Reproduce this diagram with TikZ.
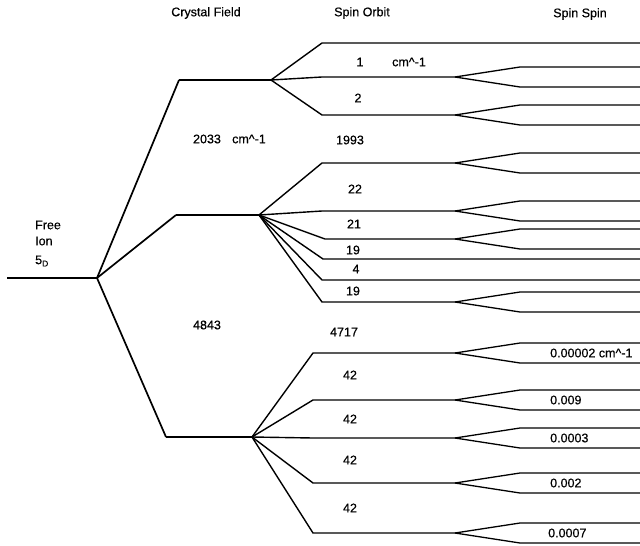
\documentclass[tikz,border=0pt]{standalone}
\usepackage{fontspec}
\setmainfont{Liberation Sans}
\newfontfamily\lblfont{Liberation Sans}[FakeBold=0.5]
\begin{document}
\begin{tikzpicture}[x=1pt,y=-1pt,
  lbl/.style={inner sep=0pt,font=\lblfont\fontsize{12.5}{14}\selectfont},
  hdr/.style={inner sep=0pt,font=\lblfont\fontsize{12.5}{14}\selectfont},
  freeline/.style={line width=2.6pt},
  cfline/.style={line width=2.2pt},
  cfdiag/.style={line width=1.7pt},
  soline/.style={line width=1.4pt},
  ssline/.style={line width=1.3pt},
  line join=miter]
\useasboundingbox (0,0) rectangle (640,546);
% headers
\node[hdr] (hcf) at (206,13) {Crystal Field};
\node[hdr] (hso) at (362,13) {Spin Orbit};
\node[hdr] (hss) at (580,14) {Spin Spin};
% free ion
\node[lbl,anchor=west] (free) at (35,225) {Free};
\node[lbl,anchor=west] (ion) at (35,241) {Ion};
\node[lbl,anchor=west] (term) at (35,261) {5\raisebox{-0.35ex}{\fontsize{8.5}{9}\selectfont D}};
\coordinate (fi0) at (7,278);
\coordinate (fi) at (97,278);
\draw[freeline] (fi0) -- (fi);
% crystal field levels
\coordinate (cfA0) at (179,80);  \coordinate (cfA) at (271,80);
\coordinate (cfB0) at (176,215); \coordinate (cfB) at (259,215);
\coordinate (cfC0) at (166,437); \coordinate (cfC) at (252,437);
\draw[cfdiag] (fi) -- (cfA0);
\draw[cfdiag] (fi) -- (cfB0);
\draw[cfdiag] (fi) -- (cfC0);
\draw[cfline] (cfA0) -- (cfA);
\draw[cfline] (cfB0) -- (cfB);
\draw[cfline] (cfC0) -- (cfC);
% spin orbit and spin spin levels
\foreach \g/\x/\y/\s in {A/322/43/0, A/322/77/1, A/322/115/1,
    B/322/163/1, B/322/211/1, B/325/239/1, B/323/259/0, B/322/280/0, B/322/302/1,
    C/313/353/1, C/313/400/1, C/313/438/1, C/313/483/1, C/313/533/1} {
  \coordinate (so\y) at (\x,\y);
  \coordinate (ss\y) at (455,\y);
  \ifnum\s=1
    \draw[soline] (cf\g) -- (so\y) -- (ss\y);
    \coordinate (up\y) at (520,\y-10);
    \coordinate (dn\y) at (520,\y+10);
    \coordinate (upe\y) at (640,\y-10);
    \coordinate (dne\y) at (640,\y+10);
    \draw[ssline] (ss\y) -- (up\y) -- (upe\y);
    \draw[ssline] (ss\y) -- (dn\y) -- (dne\y);
  \else
    \coordinate (end\y) at (640,\y);
    \draw[soline] (cf\g) -- (so\y) -- (ss\y) -- (end\y);
  \fi
}
% crystal field splittings
\node[lbl] (c1) at (207,139) {2033};
\node[lbl] (c1u) at (249,139) {cm\^{}-1};
\node[lbl] (c2) at (207,325) {4843};
% spin orbit splittings
\node[lbl] (s1) at (360,62) {1};
\node[lbl] (s1u) at (409,62) {cm\^{}-1};
\node[lbl] (s2) at (358,98) {2};
\node[lbl] (s3) at (350,140) {1993};
\node[lbl] (s4) at (355,189) {22};
\node[lbl] (s5) at (354,224) {21};
\node[lbl] (s6) at (353,250) {19};
\node[lbl] (s7) at (356,269) {4};
\node[lbl] (s8) at (353,291) {19};
\node[lbl] (s9) at (344,332) {4717};
\node[lbl] (s10) at (350,375) {42};
\node[lbl] (s11) at (350,419) {42};
\node[lbl] (s12) at (350,460) {42};
\node[lbl] (s13) at (350,508) {42};
% spin spin splittings
\node[lbl,anchor=west] (t1) at (550,353) {0.00002 cm\^{}-1};
\node[lbl,anchor=west] (t2) at (550,400) {0.009};
\node[lbl,anchor=west] (t3) at (550,438) {0.0003};
\node[lbl,anchor=west] (t4) at (550,483) {0.002};
\node[lbl,anchor=west] (t5) at (548,533) {0.0007};
\end{tikzpicture}
\end{document}
